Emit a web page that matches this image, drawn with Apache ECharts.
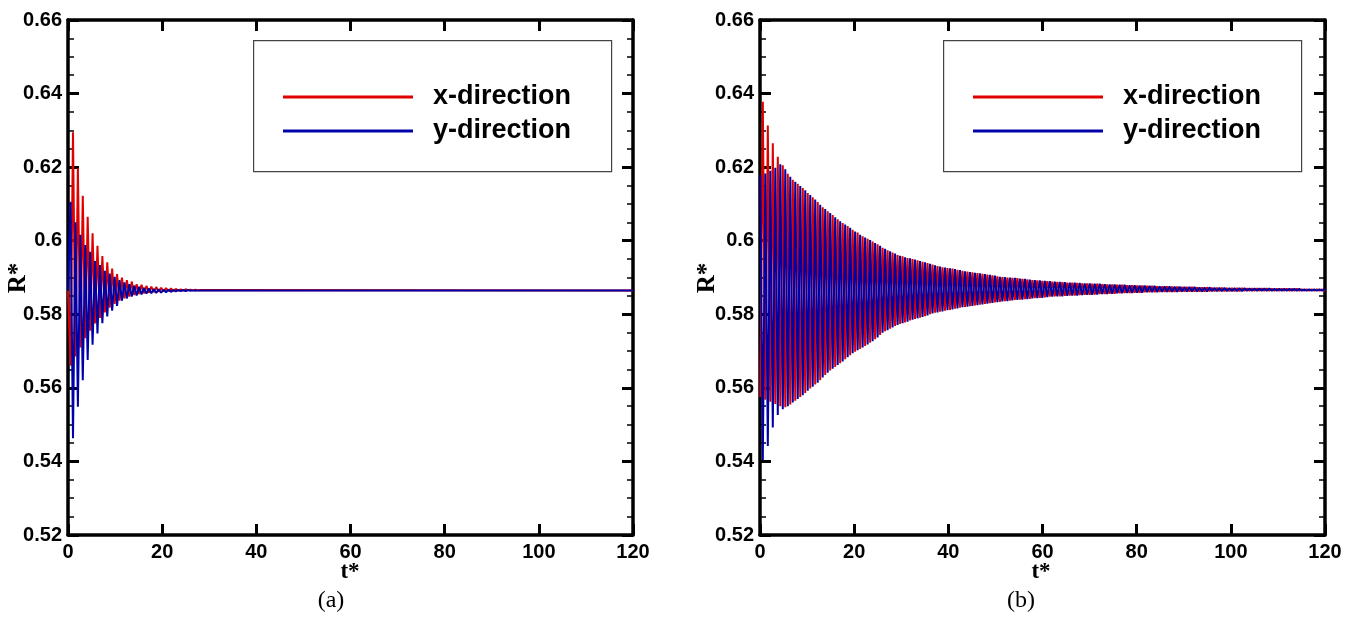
<!DOCTYPE html>
<html>
<head>
<meta charset="utf-8">
<script src="https://cdn.jsdelivr.net/npm/echarts@6/dist/echarts.min.js"></script>
<style>
html,body{margin:0;padding:0;background:#fff;}
#chart{width:1355px;height:617px;}
</style>
</head>
<body>
<div id="chart"></div>
<script>
// ---------- DATA ----------
var xTicks = [0, 20, 40, 60, 80, 100, 120];
var yTicks = [0.52, 0.54, 0.56, 0.58, 0.6, 0.62, 0.64, 0.66];
var seriesNames = ['x-direction', 'y-direction'];
var xAxisTitle = 't*', yAxisTitle = 'R*';
var panelLabels = ['(a)', '(b)'];

// Panel (a): successive extrema, alternating in time (x and y oscillate in antiphase)
var startA = 0.5865;          // value at t* = 0
var firstExtremumA = 0.54;    // t* of first extremum
var halfPeriodA = 0.52;       // half oscillation period
var endA = 0.5865;            // settled value up to t* = 120
var xTroughA = [0.5660,0.5685,0.5710,0.5735,0.5755,0.5775,0.5790,0.5805,0.5818,0.5828,0.5837,0.5843,0.5848,0.5852,0.5855,0.5857,0.5859,0.5860,0.5861,0.5862,0.5863,0.5863,0.5864,0.5864,0.5865,0.5865,0.5865];
var xPeakA = [0.6295,0.6197,0.6122,0.6065,0.6020,0.5986,0.5958,0.5941,0.5924,0.5909,0.5900,0.5893,0.5889,0.5882,0.5880,0.5877,0.5875,0.5874,0.5872,0.5871,0.5870,0.5869,0.5868,0.5868,0.5867,0.5867,0.5866];
var yPeakA = [0.6106,0.6050,0.6016,0.5988,0.5970,0.5945,0.5934,0.5918,0.5911,0.5902,0.5893,0.5887,0.5882,0.5878,0.5875,0.5872,0.5870,0.5869,0.5868,0.5867,0.5867,0.5866,0.5866,0.5866,0.5866,0.5865,0.5865];
var yTroughA = [0.5463,0.5549,0.5621,0.5676,0.5717,0.5748,0.5776,0.5794,0.5810,0.5823,0.5837,0.5843,0.5848,0.5851,0.5854,0.5856,0.5857,0.5858,0.5859,0.5860,0.5861,0.5862,0.5863,0.5863,0.5864,0.5864,0.5865];

// Panel (b)
var firstExtremumB = 0.07;
var halfPeriodB = 0.53;
var endB = 0.5866;
var xTroughB = [0.5575,0.5568,0.5562,0.5556,0.5550,0.5547,0.5555,0.5565,0.5575,0.5586,
 0.5598,0.5609,0.5621,0.5635,0.5647,0.5657,0.5667,0.5678,0.5689,0.5698,
 0.5706,0.5714,0.5723,0.5732,0.5744,0.5754,0.5761,0.5768,0.5774,0.5778,
 0.5783,0.5787,0.5791,0.5795,0.5800,0.5804,0.5807,0.5810,0.5812,0.5815,
 0.5818,0.5820,0.5822,0.5824,0.5826,0.5828,0.5830,0.5832,0.5834,0.5836,
 0.5837,0.5839,0.5840,0.5841,0.5842,0.5844,0.5845,0.5846,0.5848,0.5849,
 0.5849,0.5850,0.5851,0.5851,0.5852,0.5853,0.5853,0.5854,0.5855,0.5855,
 0.5856,0.5856,0.5857,0.5858,0.5858,0.5859,0.5859,0.5860,0.5860,0.5860,
 0.5861,0.5861,0.5861,0.5861,0.5862,0.5862,0.5862,0.5862,0.5862,0.5862,
 0.5863,0.5863,0.5863,0.5863,0.5863,0.5863,0.5863,0.5864,0.5864,0.5864,
 0.5864,0.5864,0.5864,0.5864,0.5864,0.5864,0.5864,0.5864,0.5864,0.5864,
 0.5864,0.5864,0.5864,0.5864];
var xPeakB = [0.6378,0.6313,0.6265,0.6228,0.6205,0.6182,0.6166,0.6155,0.6143,0.6130,
 0.6118,0.6105,0.6091,0.6080,0.6070,0.6058,0.6048,0.6040,0.6030,0.6022,
 0.6012,0.6005,0.5998,0.5990,0.5981,0.5974,0.5968,0.5961,0.5958,0.5953,
 0.5950,0.5947,0.5943,0.5939,0.5935,0.5931,0.5928,0.5926,0.5924,0.5921,
 0.5918,0.5916,0.5914,0.5912,0.5910,0.5908,0.5906,0.5903,0.5901,0.5900,
 0.5899,0.5898,0.5896,0.5895,0.5893,0.5892,0.5891,0.5890,0.5889,0.5888,
 0.5887,0.5886,0.5886,0.5885,0.5884,0.5884,0.5883,0.5883,0.5882,0.5881,
 0.5881,0.5880,0.5880,0.5879,0.5879,0.5878,0.5878,0.5877,0.5877,0.5876,
 0.5876,0.5876,0.5875,0.5875,0.5874,0.5874,0.5874,0.5873,0.5873,0.5873,
 0.5872,0.5872,0.5872,0.5871,0.5871,0.5871,0.5871,0.5870,0.5870,0.5870,
 0.5870,0.5870,0.5869,0.5869,0.5869,0.5869,0.5869,0.5869,0.5868,0.5868,
 0.5868,0.5868,0.5868];
var yPeakB = [0.6178,0.6183,0.6190,0.6198,0.6208,0.6194,0.6174,0.6160,0.6149,0.6137,
 0.6124,0.6112,0.6098,0.6086,0.6075,0.6064,0.6053,0.6044,0.6035,0.6025,
 0.6016,0.6009,0.6002,0.5994,0.5986,0.5978,0.5971,0.5965,0.5959,0.5955,
 0.5952,0.5949,0.5945,0.5941,0.5937,0.5933,0.5930,0.5927,0.5925,0.5923,
 0.5920,0.5917,0.5915,0.5913,0.5911,0.5909,0.5907,0.5905,0.5902,0.5901,
 0.5900,0.5899,0.5897,0.5896,0.5894,0.5893,0.5892,0.5891,0.5890,0.5889,
 0.5888,0.5887,0.5886,0.5886,0.5885,0.5884,0.5884,0.5883,0.5883,0.5882,
 0.5881,0.5881,0.5880,0.5880,0.5879,0.5879,0.5878,0.5878,0.5877,0.5877,
 0.5876,0.5876,0.5876,0.5875,0.5875,0.5874,0.5874,0.5874,0.5873,0.5873,
 0.5873,0.5872,0.5872,0.5872,0.5871,0.5871,0.5871,0.5871,0.5870,0.5870,
 0.5870,0.5870,0.5870,0.5869,0.5869,0.5869,0.5869,0.5869,0.5869,0.5868,
 0.5868,0.5868,0.5868,0.5868];
var yTroughB = [0.5404,0.5442,0.5492,0.5526,0.5542,0.5550,0.5560,0.5570,0.5580,0.5592,
 0.5603,0.5614,0.5628,0.5641,0.5652,0.5662,0.5672,0.5683,0.5694,0.5702,
 0.5710,0.5718,0.5727,0.5737,0.5750,0.5757,0.5764,0.5771,0.5776,0.5780,
 0.5785,0.5789,0.5793,0.5797,0.5802,0.5805,0.5808,0.5811,0.5813,0.5816,
 0.5819,0.5821,0.5823,0.5825,0.5827,0.5829,0.5831,0.5833,0.5835,0.5836,
 0.5838,0.5839,0.5840,0.5841,0.5843,0.5844,0.5845,0.5847,0.5848,0.5849,
 0.5849,0.5850,0.5851,0.5851,0.5852,0.5853,0.5853,0.5854,0.5855,0.5855,
 0.5856,0.5857,0.5857,0.5858,0.5858,0.5859,0.5859,0.5860,0.5860,0.5860,
 0.5861,0.5861,0.5861,0.5861,0.5862,0.5862,0.5862,0.5862,0.5862,0.5862,
 0.5863,0.5863,0.5863,0.5863,0.5863,0.5863,0.5863,0.5864,0.5864,0.5864,
 0.5864,0.5864,0.5864,0.5864,0.5864,0.5864,0.5864,0.5864,0.5864,0.5864,
 0.5864,0.5864,0.5864];

// ---------- BUILD ----------
function build(t0, half, evenVals, oddVals, startVal, endVal, tEnd) {
  var pts = [];
  if (startVal != null) pts.push([0, startVal]);
  for (var k = 0; ; k++) {
    var v = (k % 2 === 0) ? evenVals[k / 2] : oddVals[(k - 1) / 2];
    if (v === undefined) break;
    pts.push([t0 + k * half, v]);
  }
  pts.push([tEnd, endVal]);
  return pts;
}
var tMax = xTicks[xTicks.length - 1];
var redA = build(firstExtremumA, halfPeriodA, xTroughA, xPeakA, startA, endA, tMax);
var blueA = build(firstExtremumA, halfPeriodA, yPeakA, yTroughA, startA, endA, tMax);
var redB = build(firstExtremumB, halfPeriodB, xTroughB, xPeakB, null, endB, tMax);
var blueB = build(firstExtremumB, halfPeriodB, yPeakB, yTroughB, null, endB, tMax);

var RED = '#e00000', BLUE = '#0000a8';
var SANS = 'Liberation Sans, Arial, sans-serif';
var SERIF = 'Liberation Serif, Times New Roman, serif';

var grids = [
  {left: 68, top: 20, width: 565, height: 515, containLabel: false, outerBoundsMode: 'none'},
  {left: 760, top: 20, width: 565, height: 515, containLabel: false, outerBoundsMode: 'none'}
];

function xAx(gi, pos) {
  var bottom = pos === 'bottom';
  return {
    type: 'value', gridIndex: gi, position: pos,
    min: xTicks[0], max: tMax, interval: xTicks[1] - xTicks[0],
    axisLine: {show: true, onZero: false, lineStyle: {color: '#000', width: 3.5}},
    axisTick: {show: true, inside: true, length: 11, lineStyle: {color: '#000', width: 3}},
    minorTick: {show: false},
    axisLabel: {show: bottom, margin: 7, fontFamily: SANS, fontWeight: 'bold', fontSize: 20, color: '#000'},
    splitLine: {show: false}
  };
}
function yAx(gi, pos) {
  var left = pos === 'left';
  return {
    type: 'value', gridIndex: gi, position: pos,
    min: yTicks[0], max: yTicks[yTicks.length - 1], interval: yTicks[1] - yTicks[0],
    axisLine: {show: true, onZero: false, lineStyle: {color: '#000', width: 3.5}},
    axisTick: {show: true, inside: true, length: 11, lineStyle: {color: '#000', width: 3}},
    minorTick: {show: true, splitNumber: 4, length: 6, lineStyle: {color: '#000', width: 1.5}},
    axisLabel: {show: left, margin: 6, fontFamily: SANS, fontWeight: 'bold', fontSize: 20, color: '#000',
      formatter: function (v) { return String(+v.toFixed(2)); }},
    splitLine: {show: false}
  };
}

function line(name, data, color, xi, yi) {
  return {
    type: 'line', name: name, data: data, xAxisIndex: xi, yAxisIndex: yi,
    showSymbol: false, symbol: 'none', smooth: false,
    lineStyle: {color: color, width: 2}, itemStyle: {color: color},
    emphasis: {disabled: true}, animation: false
  };
}

function legendAt(left) {
  return {
    orient: 'vertical', left: left, top: 82, padding: 0,
    itemWidth: 130, itemHeight: 3, itemGap: 4, icon: 'rect',
    selectedMode: false, data: seriesNames,
    textStyle: {fontFamily: SANS, fontWeight: 'bold', fontSize: 27, color: '#000', lineHeight: 30, padding: [0, 0, 0, 15]}
  };
}

function txt(s, x, y, font, rot) {
  return {type: 'text', x: x, y: y, z: 50, rotation: rot || 0,
    style: {text: s, font: font, fill: '#000', textAlign: 'center', textVerticalAlign: 'middle'}};
}

var option = {
  animation: false,
  backgroundColor: '#fff',
  grid: grids,
  xAxis: [xAx(0, 'bottom'), xAx(0, 'top'), xAx(1, 'bottom'), xAx(1, 'top')],
  yAxis: [yAx(0, 'left'), yAx(0, 'right'), yAx(1, 'left'), yAx(1, 'right')],
  legend: [legendAt(283), legendAt(973)],
  series: [
    line(seriesNames[0], redA, RED, 0, 0),
    line(seriesNames[1], blueA, BLUE, 0, 0),
    line(seriesNames[0], redB, RED, 2, 2),
    line(seriesNames[1], blueB, BLUE, 2, 2)
  ],
  graphic: [
    {type: 'rect', left: 253, top: 40, shape: {width: 358, height: 131}, z: 50,
     style: {fill: 'rgba(0,0,0,0)', stroke: '#444', lineWidth: 1.2}},
    {type: 'rect', left: 943, top: 40, shape: {width: 358, height: 131}, z: 50,
     style: {fill: 'rgba(0,0,0,0)', stroke: '#444', lineWidth: 1.2}},
    txt(yAxisTitle, 19, 278, 'bold 25px ' + SERIF, Math.PI / 2),
    txt(yAxisTitle, 708, 278, 'bold 25px ' + SERIF, Math.PI / 2),
    txt(xAxisTitle, 350, 572, 'bold 23px ' + SERIF),
    txt(xAxisTitle, 1041, 572, 'bold 23px ' + SERIF),
    txt(panelLabels[0], 331, 601, '24px ' + SERIF),
    txt(panelLabels[1], 1021, 601, '24px ' + SERIF)
  ]
};

var chart = echarts.init(document.getElementById('chart'), null, {renderer: 'canvas'});
chart.setOption(option);
</script>
</body>
</html>
